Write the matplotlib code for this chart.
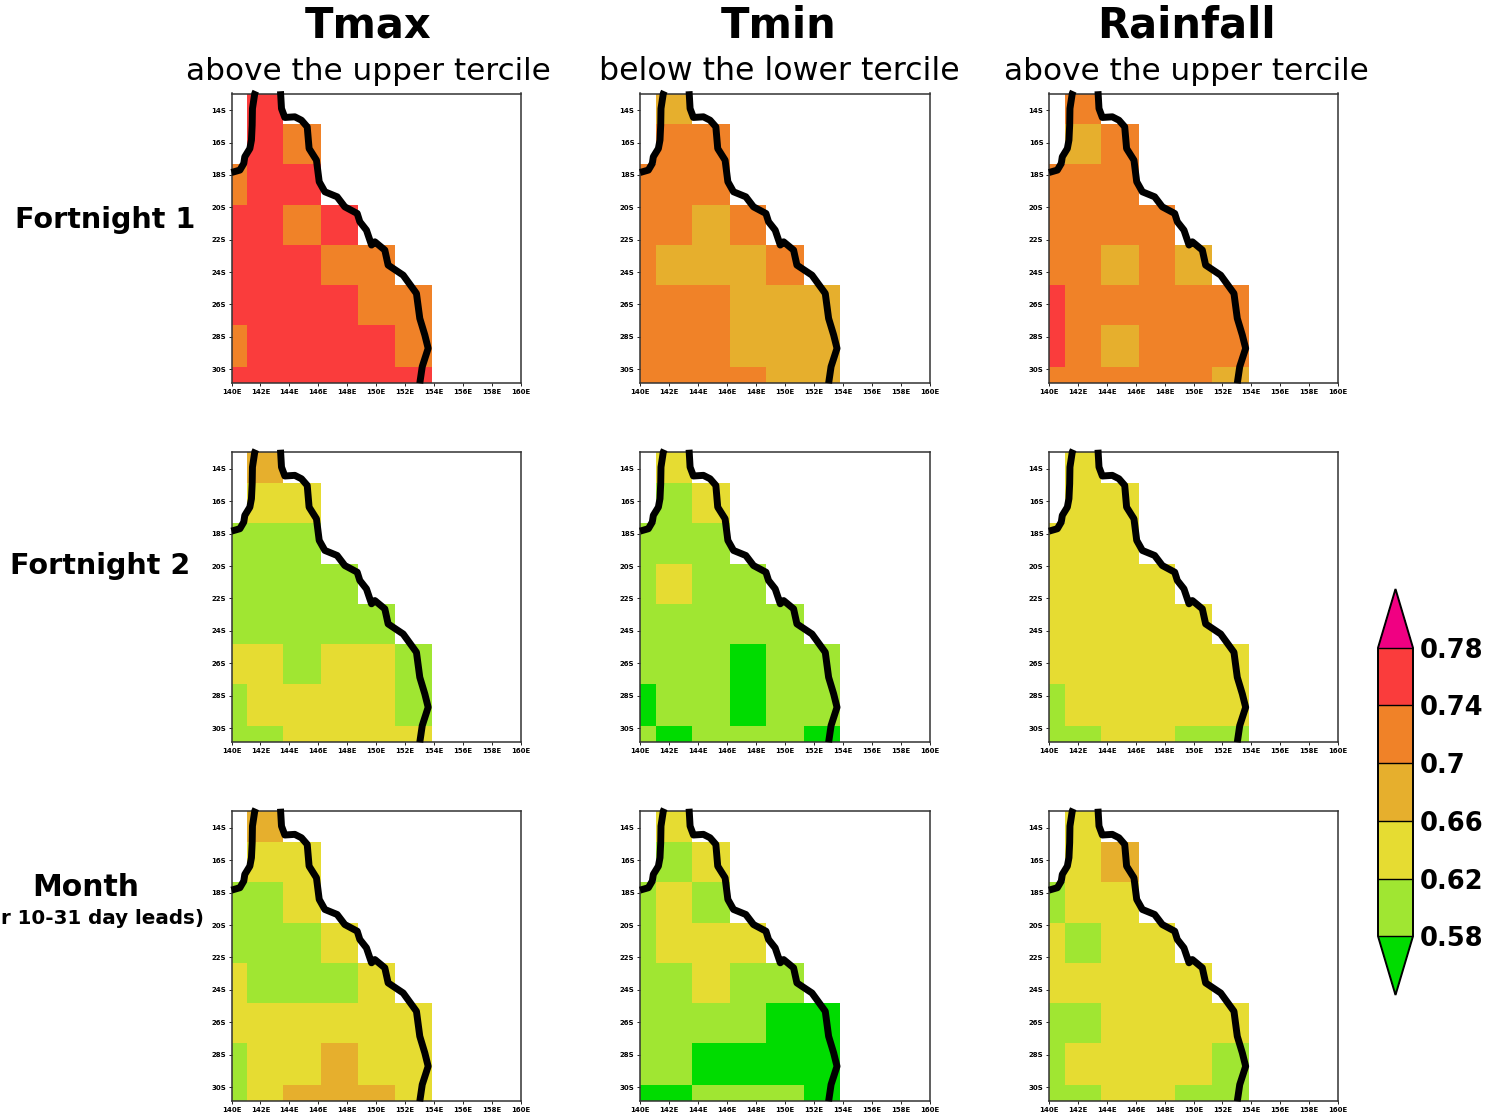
import numpy as np
import matplotlib
matplotlib.use("Agg")
import matplotlib.pyplot as plt
from matplotlib.colors import ListedColormap, BoundaryNorm

plt.rcParams['font.family'] = ['DejaVu Sans']

# class values of the probability shading
G, L, Y, A, O, R = 0.56, 0.60, 0.64, 0.68, 0.72, 0.76

levels = [0.58, 0.62, 0.66, 0.70, 0.74, 0.78]
level_labels = ["0.58", "0.62", "0.66", "0.7", "0.74", "0.78"]
colors = ["#A0E632", "#E6DC32", "#E6AF2D", "#F08228", "#FA3C3C"]
color_under = "#00DC00"
color_over = "#F00082"

# cell edges in degrees
lon_edges = [140, 141.08, 143.57, 146.2, 148.73, 151.3, 153.85]
lat_edges = [-12.97, -14.88, -17.35, -19.86, -22.33, -24.8, -27.27, -29.85, -30.85]

# each row starts at the first grid column, north to south (None = outside the land mask)
N = None
tmax_f1 = [[N, R], [N, R, O], [O, R, R], [R, R, O, R], [R, R, R, O, O],
           [R, R, R, R, O, O], [O, R, R, R, R, O], [R, R, R, R, R, R]]
tmin_f1 = [[N, A], [N, O, O], [O, O, O], [O, O, A, O], [O, A, A, A, O],
           [O, O, O, A, A, A], [O, O, O, A, A, A], [O, O, O, O, A, A]]
rain_f1 = [[N, O], [N, A, O], [O, O, O], [O, O, O, O], [O, O, A, O, A],
           [R, O, O, O, O, O], [R, O, A, O, O, O], [O, O, O, O, O, A]]
tmax_f2 = [[N, A], [N, Y, Y], [L, L, L], [L, L, L, L], [L, L, L, L, L],
           [Y, Y, L, Y, Y, L], [L, Y, Y, Y, Y, L], [L, L, Y, Y, Y, Y]]
tmin_f2 = [[N, Y], [N, L, Y], [L, L, L], [L, Y, L, L], [L, L, L, L, L],
           [L, L, L, G, L, L], [G, L, L, G, L, L], [L, G, L, L, L, G]]
rain_f2 = [[N, Y], [N, Y, Y], [Y, Y, Y], [Y, Y, Y, Y], [Y, Y, Y, Y, Y],
           [Y, Y, Y, Y, Y, Y], [L, Y, Y, Y, Y, Y], [L, L, Y, Y, L, L]]
tmax_month = [[N, A], [N, Y, Y], [L, L, Y], [L, L, L, Y], [Y, L, L, L, Y],
              [Y, Y, Y, Y, Y, Y], [L, Y, Y, A, Y, Y], [L, Y, A, A, A, Y]]
tmin_month = [[N, Y], [N, L, Y], [L, Y, L], [L, Y, Y, Y], [L, L, Y, L, L],
              [L, L, L, L, G, G], [L, L, G, G, G, G], [G, G, L, L, L, G]]
rain_month = [[N, Y], [N, Y, A], [L, Y, Y], [Y, L, Y, Y], [Y, Y, Y, Y, Y],
              [L, L, Y, Y, Y, Y], [L, Y, Y, Y, Y, L], [L, L, Y, Y, L, L]]

panels = [[tmax_f1, tmin_f1, rain_f1],
          [tmax_f2, tmin_f2, rain_f2],
          [tmax_month, tmin_month, rain_month]]

# Queensland coast
gulf_lon = [140.0, 140.58, 140.85, 140.92, 141.27, 141.38, 141.43, 141.45, 141.61, 141.68]
gulf_lat = [-17.85, -17.70, -17.29, -16.88, -16.37, -15.85, -14.93, -13.90, -12.97, -12.83]
east_lon = [143.39, 143.46, 143.69, 144.38, 144.84, 145.24, 145.37, 145.88, 146.07, 146.46,
            147.31, 147.84, 148.70, 148.88, 149.34, 149.69, 149.92, 150.61, 150.84, 151.88,
            152.80, 153.03, 153.38, 153.61, 153.20, 153.03]
east_lat = [-12.83, -13.90, -14.45, -14.41, -14.62, -15.03, -16.37, -17.09, -18.42, -19.04,
            -19.35, -19.97, -20.38, -20.89, -21.41, -22.33, -22.13, -22.64, -23.57, -24.19,
            -25.32, -26.86, -27.89, -28.71, -29.84, -30.87]

lon_ticks = [140, 142, 144, 146, 148, 150, 152, 154, 156, 158, 160]
lat_ticks = [-14, -16, -18, -20, -22, -24, -26, -28, -30]

col_titles = ["Tmax", "Tmin", "Rainfall"]
col_subtitles = ["above the upper tercile", "below the lower tercile", "above the upper tercile"]

W, H = 1488, 1114
fig = plt.figure(figsize=(W / 100, H / 100), dpi=100, facecolor="white")


def add_axes_px(x0, y0, x1, y1):
    return fig.add_axes([x0 / W, 1 - y1 / H, (x1 - x0) / W, (y1 - y0) / H])


def to_grid(rows):
    out = np.full((8, 6), np.nan)
    for i, row in enumerate(rows):
        for j, v in enumerate(row):
            if v is not None:
                out[i, j] = v
    return out


cmap = ListedColormap(colors)
cmap.set_under(color_under)
cmap.set_over(color_over)
cmap.set_bad("white")
norm = BoundaryNorm(levels, cmap.N)

col_x = [(231.5, 520.5), (640, 929.5), (1049, 1338)]
row_y = [(93.5, 383), (452, 742), (811, 1101)]

for r in range(3):
    for c in range(3):
        ax = add_axes_px(col_x[c][0], row_y[r][0], col_x[c][1], row_y[r][1])
        grid = np.ma.masked_invalid(to_grid(panels[r][c]))
        mesh = ax.pcolormesh(lon_edges, lat_edges, grid, cmap=cmap, norm=norm, antialiased=False)
        ax.plot(gulf_lon, gulf_lat, color="black", lw=5, clip_on=False, solid_capstyle="butt", zorder=5)
        ax.plot(east_lon, east_lat, color="black", lw=5, clip_on=False, solid_capstyle="butt", zorder=5)
        ax.set_xlim(140, 160)
        ax.set_ylim(-30.85, -12.97)
        ax.set_xticks(lon_ticks)
        ax.set_xticklabels([f"{v}E" for v in lon_ticks], fontsize=5, fontweight="bold")
        ax.set_yticks(lat_ticks)
        ax.set_yticklabels([f"{-v}S" for v in lat_ticks], fontsize=5, fontweight="bold")
        ax.tick_params(length=2, width=0.7, pad=2, color="#222222")
        for s in ax.spines.values():
            s.set_linewidth(1.1)
            s.set_color("#333333")

for c, (title, sub, tx, sub_size) in enumerate(zip(col_titles, col_subtitles, [368, 779, 1186], [22.4, 22.8, 22.4])):
    fig.text(tx / W, 1 - 26 / H, title, ha="center", va="center", fontsize=30, fontweight="bold")
    fig.text(tx / W, 1 - 71 / H, sub, ha="center", va="center", fontsize=sub_size)

fig.text(105 / W, 1 - 220 / H, "Fortnight 1", ha="center", va="center", fontsize=20.6, fontweight="bold")
fig.text(100 / W, 1 - 566 / H, "Fortnight 2", ha="center", va="center", fontsize=20.6, fontweight="bold")
fig.text(86 / W, 1 - 887 / H, "Month", ha="center", va="center", fontsize=21.5, fontweight="bold")
fig.text(204 / W, 1 - 919 / H, "r 10-31 day leads)", ha="right", va="center", fontsize=14.3, fontweight="bold")

# the colorbar axes includes the two triangles
cax = add_axes_px(1378, 589, 1413, 995)
cb = fig.colorbar(mesh, cax=cax, extend="both", extendfrac=0.204, spacing="uniform", drawedges=True, ticks=levels)
cb.ax.set_yticklabels(level_labels, fontsize=18.5, fontweight="bold")
cb.ax.tick_params(length=0, pad=5)
cb.outline.set_linewidth(1.4)
cb.outline.set_edgecolor("black")
cb.dividers.set_linewidth(1.0)
cb.dividers.set_color("black")

fig.savefig("out.png", dpi=100, facecolor="white")
